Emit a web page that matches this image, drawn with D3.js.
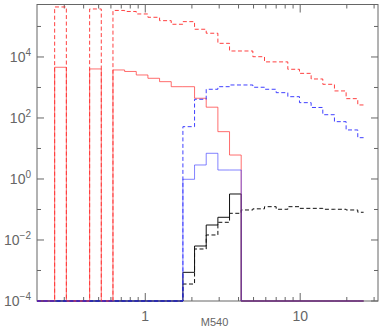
<!DOCTYPE html>
<html>
<head>
<meta charset="utf-8">
<script src="https://cdn.jsdelivr.net/npm/d3@7"></script>
<style>
  body { margin: 0; background: #fff; }
  svg { display: block; }
  text { font-family: "Liberation Sans", Arial, sans-serif; fill: #666; }
</style>
</head>
<body>
<svg id="chart" width="382" height="327"></svg>
<script>
// bin centres (quarter-octave bins)
const binCenters = [0.200, 0.238, 0.284, 0.337, 0.401, 0.477, 0.567, 0.675, 0.802, 0.954,
  1.134, 1.349, 1.604, 1.908, 2.269, 2.698, 3.209, 3.816, 4.538, 5.397,
  6.418, 7.632, 9.076, 10.79, 12.84, 15.26, 18.15, 21.59, 25.67]

const redDashed = [0, 0, 4.36e5, 0, 0, 3.75e5, 0, 3.35e5, 3.1e5, 2.57e5,
  2.0e5, 1.55e5, 1.18e5, 1.44e5, 8.1e4, 6.0e4, 2.8e4, 1.57e4, 1.57e4, 1.02e4,
  6.9e3, 6.9e3, 3.95e3, 2.9e3, 1.9e3, 1.27e3, 770, 430, 267]
const redSolid = [0, 0, 4.6e3, 0, 0, 4.05e3, 0, 3.75e3, 3.35e3, 2.57e3,
  2.0e3, 1.55e3, 1.06e3, 1.06e3, 443, 226, 35.6, 6.1, 0, 0,
  0, 0, 0, 0, 0, 0, 0, 0, 0]
const blueDashed = [0, 0, 0, 0, 0, 0, 0, 0, 0, 0,
  0, 0, 0, 51.9, 410, 873, 1062, 1208, 1208, 1016,
  873, 676, 499, 318, 221, 128, 75.7, 40.5, 22.6]
const blueSolid = [0, 0, 0, 0, 0, 0, 0, 0, 0, 0,
  0, 0, 0, 0.977, 2.88, 6.96, 1.97, 1.97, 0, 0,
  0, 0, 0, 0, 0, 0, 0, 0, 0]
const blackSolid = [0, 0, 0, 0, 0, 0, 0, 0, 0, 0,
  0, 0, 0, 8.7e-4, 6.35e-3, 0.031, 0.0555, 0.322, 0, 0,
  0, 0, 0, 0, 0, 0, 0, 0, 0]
const blackDashed = [0, 0, 0, 0, 0, 0, 0, 0, 0, 0,
  0, 0, 0, 3.6e-4, 5.07e-3, 0.0146, 0.038, 0.075, 0.0964, 0.105,
  0.1236, 0.1016, 0.1236, 0.109, 0.109, 0.1016, 0.1016, 0.0964, 0.081]

const xMajorTicks = [1, 10]
const xMinorTicks = [0.3, 0.4, 0.5, 0.6, 0.7, 0.8, 0.9, 2, 3, 4, 5, 6, 7, 8, 9, 20, 30]
const yMajorTicks = [1e-4, 1e-2, 1, 1e2, 1e4]
const yMinorTicks = [1e-3, 1e-1, 10, 1e3, 1e5]
const xTitle = 'M540'

const margin = { top: 4.5, right: 4, bottom: 26, left: 37 }
const width = 382 - margin.left - margin.right
const height = 327 - margin.top - margin.bottom

const svg = d3.select('#chart')
const g = svg.append('g').attr('transform', `translate(${margin.left}, ${margin.top})`)

const x = d3.scaleLog().domain([0.2, 31.8]).range([0, width])
const y = d3.scaleLog().domain([1e-4, 5.25e5]).range([height, 0])
const yFloor = 1e-4

g.append('clipPath').attr('id', 'clip')
  .append('rect').attr('x', -1).attr('y', -1).attr('width', width + 2).attr('height', height + 2)

const axisColor = '#666'

// box
g.append('rect')
  .attr('width', width).attr('height', height)
  .attr('fill', 'none').attr('stroke', axisColor).attr('stroke-width', 1)

// ticks, IDL style, inward on all four sides
const ticks = g.append('g').attr('stroke', axisColor).attr('stroke-width', 1)
const addX = (vals, len) => vals.forEach(v => {
  ticks.append('line').attr('x1', x(v)).attr('x2', x(v)).attr('y1', height).attr('y2', height - len)
  ticks.append('line').attr('x1', x(v)).attr('x2', x(v)).attr('y1', 0).attr('y2', len)
})
const addY = (vals, len) => vals.forEach(v => {
  ticks.append('line').attr('y1', y(v)).attr('y2', y(v)).attr('x1', 0).attr('x2', len)
  ticks.append('line').attr('y1', y(v)).attr('y2', y(v)).attr('x1', width).attr('x2', width - len)
})
addX(xMajorTicks, 8)
addX(xMinorTicks, 4)
addY(yMajorTicks, 7)
addY(yMinorTicks, 4)

g.selectAll('.xlab').data(xMajorTicks).enter().append('text')
  .attr('x', d => x(d)).attr('y', height + 20)
  .attr('text-anchor', 'middle').attr('font-size', 14)
  .text(d => d)

const ylab = g.selectAll('.ylab').data(yMajorTicks).enter().append('text')
  .attr('x', -6).attr('y', d => y(d) + 5)
  .attr('text-anchor', 'end').attr('font-size', 14)
ylab.append('tspan').text('10')
ylab.append('tspan').attr('dy', -6).attr('font-size', 10)
  .text(d => { const e = Math.round(Math.log10(d)); return e < 0 ? '\u2212' + (-e) : e })

// x title sits low, just under the tick labels
g.append('text')
  .attr('x', x(2.8)).attr('y', height + 24.5)
  .attr('text-anchor', 'middle').attr('font-size', 11)
  .text(xTitle)

const line = d3.line()
  .curve(d3.curveStep)
  .x((d, i) => x(binCenters[i]))
  .y(d => y(Math.max(d, yFloor)))

const series = [
  { values: blackDashed, color: '#111', dash: '4,2.5', opacity: 1 },
  { values: blackSolid, color: '#111', dash: null, opacity: 1 },
  { values: redDashed, color: '#ff2020', dash: '4,2.5', opacity: 0.85 },
  { values: redSolid, color: '#ff3030', dash: null, opacity: 0.7 },
  { values: blueDashed, color: '#2020ff', dash: '4,2.5', opacity: 0.85 },
  { values: blueSolid, color: '#3030ff', dash: null, opacity: 0.6 }
]

const plot = g.append('g').attr('clip-path', 'url(#clip)')
series.forEach(s => {
  plot.append('path')
    .datum(s.values)
    .attr('fill', 'none')
    .attr('stroke', s.color)
    .attr('stroke-opacity', s.opacity)
    .attr('stroke-width', 1)
    .attr('stroke-dasharray', s.dash)
    .attr('d', line)
})
</script>
</body>
</html>
